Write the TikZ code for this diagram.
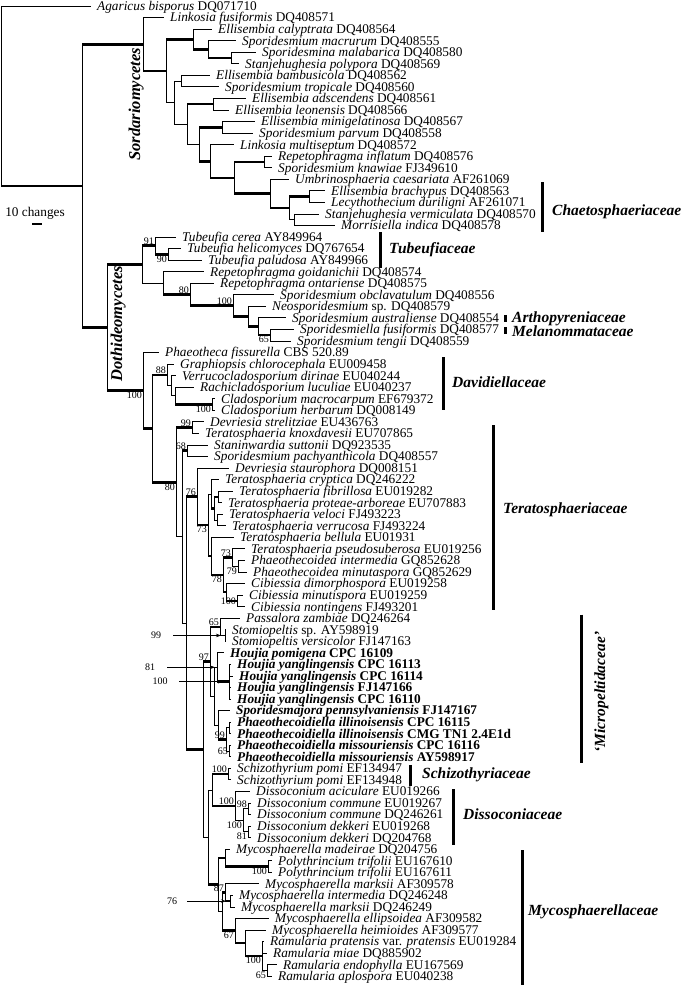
\documentclass[tikz,border=0pt]{standalone}
\usepackage{fontspec}
\setmainfont{Liberation Serif}
\usetikzlibrary{calc,arrows.meta}

\newcommand{\leaffont}{\fontsize{13.3}{14}\selectfont}
\newcommand{\bsfont}{\fontsize{10}{11}\selectfont}
\newcommand{\famfont}{\fontsize{15.5}{16}\selectfont\bfseries\itshape}
\newcommand{\classfont}{\fontsize{16.5}{17}\selectfont\bfseries\itshape}
% internal node: name, x, first child, last child
\newcommand{\inode}[4]{\path let \p1=($(#3)!0.5!(#4)$) in coordinate (#1) at (#2pt,\y1);}

\tikzset{
  branch/.style={line width=0.8pt},
  thickbranch/.style={line width=2.6pt},
  tx/.style={anchor=west, inner xsep=6pt, inner ysep=0pt, text height=10pt, text depth=1.2pt, font=\leaffont},
  txb/.style={tx, font=\leaffont\bfseries},
  bs/.style={font=\bsfont, inner sep=1pt},
  fam/.style={anchor=west, inner sep=0pt, font=\famfont},
  famrot/.style={rotate=90, anchor=base, inner sep=0pt, font=\famfont},
  bar/.style={line width=3pt},
  pointer/.style={line width=0.6pt, -{Stealth[length=5pt,width=3.5pt]}},
}

\begin{document}
\begin{tikzpicture}[x=1pt, y=-11.55pt]
\useasboundingbox (0,0.4805) rectangle (685,85.935);

% Outgroup and Sordariomycetes
\node[tx] (l1) at (91,1) {\textit{Agaricus bisporus} DQ071710};
\node[tx] (l2) at (164,2) {\textit{Linkosia fusiformis} DQ408571};
\node[tx] (l3) at (212,3) {\textit{Ellisembia calyptrata} DQ408564};
\node[tx] (l4) at (236,4) {\textit{Sporidesmium macrurum} DQ408555};
\node[tx] (l5) at (256,5) {\textit{Sporidesmina malabarica} DQ408580};
\node[tx] (l6) at (239,6) {\textit{Stanjehughesia polypora} DQ408569};
\node[tx] (l7) at (210,7) {\textit{Ellisembia bambusicola} DQ408562};
\node[tx] (l8) at (219,8) {\textit{Sporidesmium tropicale} DQ408560};
\node[tx] (l9) at (246,9) {\textit{Ellisembia adscendens} DQ408561};
\node[tx] (l10) at (229,10) {\textit{Ellisembia leonensis} DQ408566};
\node[tx] (l11) at (255,11) {\textit{Ellisembia minigelatinosa} DQ408567};
\node[tx] (l12) at (253,12) {\textit{Sporidesmium parvum} DQ408558};
\node[tx] (l13) at (234,13) {\textit{Linkosia multiseptum} DQ408572};
\node[tx] (l14) at (272,14) {\textit{Repetophragma inflatum} DQ408576};
\node[tx] (l15) at (272,15) {\textit{Sporidesmium knawiae} FJ349610};
\node[tx] (l16) at (289,16) {\textit{Umbrinosphaeria caesariata} AF261069};
\node[tx] (l17) at (325,17) {\textit{Ellisembia brachypus} DQ408563};
\node[tx] (l18) at (325,18) {\textit{Lecythothecium duriligni} AF261071};
\node[tx] (l19) at (319,19) {\textit{Stanjehughesia vermiculata} DQ408570};
\node[tx] (l20) at (335,20) {\textit{Morrisiella indica} DQ408578};

% Tubeufiaceae and Pleosporales
\node[tx] (l21) at (176,21) {\textit{Tubeufia cerea} AY849964};
\node[tx] (l22) at (181,22) {\textit{Tubeufia helicomyces} DQ767654};
\node[tx] (l23) at (202,23) {\textit{Tubeufia paludosa} AY849966};
\node[tx] (l24) at (204,24) {\textit{Repetophragma goidanichii} DQ408574};
\node[tx] (l25) at (214,25) {\textit{Repetophragma ontariense} DQ408575};
\node[tx] (l26) at (274,26) {\textit{Sporidesmium obclavatulum} DQ408556};
\node[tx] (l27) at (266,27) {\textit{Neosporidesmium} sp. DQ408579};
\node[tx] (l28) at (286,28) {\textit{Sporidesmium australiense} DQ408554};
\node[tx] (l29) at (294,29) {\textit{Sporidesmiella fusiformis} DQ408577};
\node[tx] (l30) at (291,30) {\textit{Sporidesmium tengii} DQ408559};

% Capnodiales
\node[tx] (l31) at (159,31) {\textit{Phaeotheca fissurella} CBS 520.89};
\node[tx] (l32) at (174,32) {\textit{Graphiopsis chlorocephala} EU009458};
\node[tx] (l33) at (176,33) {\textit{Verrucocladosporium dirinae} EU040244};
\node[tx] (l34) at (194,34) {\textit{Rachicladosporium luculiae} EU040237};
\node[tx] (l35) at (215,35) {\textit{Cladosporium macrocarpum} EF679372};
\node[tx] (l36) at (215,36) {\textit{Cladosporium herbarum} DQ008149};
\node[tx] (l37) at (204,37) {\textit{Devriesia strelitziae} EU436763};
\node[tx] (l38) at (199,38) {\textit{Teratosphaeria knoxdavesii} EU707865};
\node[tx] (l39) at (208,39) {\textit{Staninwardia suttonii} DQ923535};
\node[tx] (l40) at (208,40) {\textit{Sporidesmium pachyanthicola} DQ408557};
\node[tx] (l41) at (229,41) {\textit{Devriesia staurophora} DQ008151};
\node[tx] (l42) at (219,42) {\textit{Teratosphaeria cryptica} DQ246222};
\node[tx] (l43) at (233,43) {\textit{Teratosphaeria fibrillosa} EU019282};
\node[tx] (l44) at (222,44) {\textit{Teratosphaeria proteae-arboreae} EU707883};
\node[tx] (l45) at (223,45) {\textit{Teratosphaeria veloci} FJ493223};
\node[tx] (l46) at (226,46) {\textit{Teratosphaeria verrucosa} FJ493224};
\node[tx] (l47) at (234,47) {\textit{Teratosphaeria bellula} EU01931};
\node[tx] (l48) at (245,48) {\textit{Teratosphaeria pseudosuberosa} EU019256};
\node[tx] (l49) at (245,49) {\textit{Phaeothecoidea intermedia} GQ852628};
\node[tx] (l50) at (247,50) {\textit{Phaeothecoidea minutaspora} GQ852629};
\node[tx] (l51) at (245,51) {\textit{Cibiessia dimorphospora} EU019258};
\node[tx] (l52) at (243,52) {\textit{Cibiessia minutispora} EU019259};
\node[tx] (l53) at (245,53) {\textit{Cibiessia nontingens} FJ493201};
\node[tx] (l54) at (240,54) {\textit{Passalora zambiae} DQ246264};
\node[tx] (l55) at (226,55) {\textit{Stomiopeltis} sp. AY598919};
\node[tx] (l56) at (226,56) {\textit{Stomiopeltis versicolor} FJ147163};
\node[txb] (l57) at (224,57) {\textit{Houjia pomigena} CPC 16109};
\node[txb] (l58) at (231,58) {\textit{Houjia yanglingensis} CPC 16113};
\node[txb] (l59) at (233,59) {\textit{Houjia yanglingensis} CPC 16114};
\node[txb] (l60) at (231,60) {\textit{Houjia yanglingensis} FJ147166};
\node[txb] (l61) at (231,61) {\textit{Houjia yanglingensis} CPC 16110};
\node[txb] (l62) at (230,62) {\textit{Sporidesmajora pennsylvaniensis} FJ147167};
\node[txb] (l63) at (231,63) {\textit{Phaeothecoidiella illinoisensis} CPC 16115};
\node[txb] (l64) at (231,64) {\textit{Phaeothecoidiella illinoisensis} CMG TN1 2.4E1d};
\node[txb] (l65) at (231,65) {\textit{Phaeothecoidiella missouriensis} CPC 16116};
\node[txb] (l66) at (231,66) {\textit{Phaeothecoidiella missouriensis} AY598917};
\node[tx] (l67) at (231,67) {\textit{Schizothyrium pomi} EF134947};
\node[tx] (l68) at (231,68) {\textit{Schizothyrium pomi} EF134948};
\node[tx] (l69) at (250,69) {\textit{Dissoconium aciculare} EU019266};
\node[tx] (l70) at (251,70) {\textit{Dissoconium commune} EU019267};
\node[tx] (l71) at (251,71) {\textit{Dissoconium commune} DQ246261};
\node[tx] (l72) at (251,72) {\textit{Dissoconium dekkeri} EU019268};
\node[tx] (l73) at (251,73) {\textit{Dissoconium dekkeri} DQ204768};
\node[tx] (l74) at (230,74) {\textit{Mycosphaerella madeirae} DQ204756};
\node[tx] (l75) at (272,75) {\textit{Polythrincium trifolii} EU167610};
\node[tx] (l76) at (272,76) {\textit{Polythrincium trifolii} EU167611};
\node[tx] (l77) at (259,77) {\textit{Mycosphaerella marksii} AF309578};
\node[tx] (l78) at (233,78) {\textit{Mycosphaerella intermedia} DQ246248};
\node[tx] (l79) at (235,79) {\textit{Mycosphaerella marksii} DQ246249};
\node[tx] (l80) at (269,80) {\textit{Mycosphaerella ellipsoidea} AF309582};
\node[tx] (l81) at (266,81) {\textit{Mycosphaerella heimioides} AF309577};
\node[tx] (l82) at (264,82) {\textit{Ramularia pratensis} var. \textit{pratensis} EU019284};
\node[tx] (l83) at (267,83) {\textit{Ramularia miae} DQ885902};
\node[tx] (l84) at (277,84) {\textit{Ramularia endophylla} EU167569};
\node[tx] (l85) at (272,85) {\textit{Ramularia aplospora} EU040238};

% Internal nodes (children first) with their vertical lines
\foreach \nm/\xx/\fa/\fb in {
  s2b/231/l5/l6, s2a/208/l4/s2b, s2/193/l3/s2a, cb/181/l7/l8, ca/213/l9/l10,
  cm/222/l11/l12, cr/264/l14/l15, cbl/309/l17/l18, cvm/294/l19/l20,
  cu2/289/cbl/cvm, cu/270/l16/cu2, s7/234/cr/cu, s6/210/l13/s7, s5/199/cm/s6,
  s4/187/ca/s5, s3/174/cb/s4, s1/166/s2/s3, s0/143/l2/s1,
  t2/168/l22/l23, t1/155/l21/t2, p5/270/l29/l30, p4/258/l28/p5, p3/248/l27/p4,
  p2/233/l26/p3, p1/190/l25/p2, p0/163/l24/p1, tg/142/t1/p0,
  cl/212/l35/l36, dv2/175/l34/cl, dv1/171/l33/dv2, dv/167/l32/dv1,
  dk/192/l37/l38, sp/187/l39/l40, fp/218/l43/l44, vv/217/l45/l46, tf/214/fp/vv,
  tc/211/l42/tf, phx/238/l49/l50, tps/232/l48/phx, cib1/237/l52/l53,
  cib/226/l51/cib1, tq/223/tps/cib, tb/211/l47/tq, t73/208/tc/tb, t76/197/l41/t73,
  st/225/l55/l56, ps/220/l54/st, hy/229/l58/l61, h/217/l57/hy, phi/229/l63/l64,
  phm/229/l65/l66, ph1/226/phi/phm, ph/218/l62/ph1, hp/214/h/ph, mic/210/ps/hp,
  sch/228/l67/l68, dc/248/l70/l71, dd/248/l72/l73, dis1/243/dc/dd, dis/235/l69/dis1,
  sd/212/sch/dis, pt/268/l75/l76, mp/225/l74/pt, im/230/l78/l79, mk/225/l77/im,
  r2/267/l84/l85, r1/262/l82/r2, r0/245/l81/r1, rx/235/l80/r0, m1/222/mk/rx,
  m0/218/mp/m1, sdm/208/sd/m0, c5/203/mic/sdm, c4/186/t76/c5, c3/182/sp/c4,
  c2/176/dk/c3, c1/152/dv/c2, c/143/l31/c1, d/107/tg/c, ig/82/s0/d, root/1/l1/ig}{
  \inode{\nm}{\xx}{\fa}{\fb}
  \draw[branch] (\nm |- \fa) -- (\nm |- \fb);
}

% Thin branches
\foreach \pa/\ch in {
  root/l1, s0/l2, s1/s3, s2/l3, s2a/l4, s2b/l5, s2b/l6, s3/cb, s3/s4, s4/s5, cb/l7, cb/l8,
  ca/l9, ca/l10, cm/l11, cm/l12, s6/l13, cr/l14, cr/l15, cu/l16, cu2/cvm,
  cbl/l17, cbl/l18, cvm/l19, cvm/l20,
  tg/p0, t1/l21, t2/l22, t2/l23, p0/l24, p1/l25, p2/l26, p3/l27, p4/l28, p5/l29, p5/l30,
  c/l31, dv/l32, dv/dv1, dv1/l33, dv1/dv2, dv2/l34, cl/l35, cl/l36, c2/c3,
  dk/l37, dk/l38, c3/c4, sp/l39, sp/l40, t76/l41, t73/tc, tc/l42, tf/vv,
  fp/l43, fp/l44, vv/l45, vv/l46, tb/l47, tps/l48, tps/phx, phx/l49, phx/l50,
  cib/l51, cib1/l52, cib1/l53,
  c5/sdm, mic/hp, ps/l54, ps/st, st/l55, st/l56, hp/h, hp/ph, h/l57,
  hy/l58, hy/l59, hy/l60, hy/l61, ph/l62, ph1/phi, ph1/phm, phi/l63, phi/l64,
  phm/l65, phm/l66, sdm/sd, sch/l67, sch/l68, dis/l69, dis/dis1, dis1/dc, dis1/dd,
  dc/l70, dc/l71, dd/l72, dd/l73, m0/m1, mp/l74, pt/l75, pt/l76, mk/l77,
  im/l78, im/l79, rx/l80, r0/l81, r1/l82, r1/l83, r1/r2, r2/l84, r2/l85}
  \draw[branch] (\pa |- \ch) -- (\ch);

% Thick (supported) branches
\foreach \pa/\ch in {
  root/ig, ig/s0, ig/d, s0/s1, s1/s2, s2/s2a, s2a/s2b, s4/ca, s5/cm, s5/s6,
  s6/s7, s7/cr, s7/cu, cu/cu2, cu2/cbl,
  d/tg, d/c, tg/t1, t1/t2, p0/p1, p1/p2, p2/p3, p3/p4, p4/p5,
  c/c1, c1/dv, c1/c2, dv2/cl, c2/dk, c3/sp, c4/t76, c4/c5, t76/t73, t73/tb,
  tc/tf, tf/fp, tb/tq, tq/tps, tq/cib, cib/cib1,
  c5/mic, mic/ps, h/hy, ph/ph1, sd/sch, sd/dis, sdm/m0, m0/mp, mp/pt,
  m1/mk, m1/rx, mk/im, rx/r0, r0/r1}
  \draw[thickbranch] (\pa |- \ch) -- (\ch);

% Bootstrap values
\foreach \nm/\val/\anc in {
  t1/91/south east, t2/90/north east, p1/80/south east, p2/100/south east,
  p5/65/north east, c/100/north east, dv/88/south east, cl/100/north east,
  c2/80/north east, dk/99/south east, sp/68/south east, t76/76/south east,
  t73/73/north east, tps/73/south east, phx/79/north east, tq/78/north east,
  cib1/100/east, ps/65/south east, mic/97/south east, ph1/99/south east,
  phm/65/east, sch/100/south east, dis/100/south east, dc/98/south east,
  dis1/100/north east, dd/81/north east, pt/100/north east, mk/87/south east,
  rx/67/north east, r1/100/north east, r2/65/north east}
  \node[bs, anchor=\anc] (bs\nm) at (\nm) {\val};

% Values pointed to with arrows
\node[bs] (a99) at ($(st)+(-69,0)$) {99};
\draw[pointer] ([xshift=11pt]a99.east) -- ([xshift=-4pt]st);
\node[bs] (a81) at ($(h)+(-67,0)$) {81};
\draw[pointer] ([xshift=11pt]a81.east) -- ([xshift=-2pt]h);
\node[bs] (a100) at ($(hy)+(-69,0)$) {100};
\draw[pointer] ([xshift=10.5pt]a100.east) -- ([xshift=-6pt]hy);
\node[bs] (a76) at ($(im)+(-58,0)$) {76};
\draw[pointer] ([xshift=9pt]a76.east) -- ([xshift=-4pt]im);

% Scale bar
\node[font=\leaffont, inner sep=0pt] (scale) at (35,18.92) {10 changes};
\draw[line width=1.2pt] (32,19.87) -- (42,19.87);

% Classes
\node[famrot, font=\classfont] (sordario) at (140,9.5) {Sordariomycetes};
\node[famrot, font=\classfont] (dothideo) at (122,28.5) {Dothideomycetes};

% Families
\draw[bar] (542,16.24) -- (542,20.57);
\node[fam] (chaeto) at (552,18.8) {Chaetosphaeriaceae};
\draw[bar] (380,20.6) -- (380,23.7);
\node[fam] (tubeu) at (389,22.1) {Tubeufiaceae};
\draw[bar] (505,27.75) -- (505,28.35);
\node[fam] (arthop) at (512,28.05) {Arthopyreniaceae};
\draw[bar] (505,28.8) -- (505,29.4);
\node[fam] (melan) at (512,29.15) {Melanommataceae};
\draw[bar] (443,31.4) -- (443,36);
\node[fam] (davidi) at (452,33.6) {Davidiellaceae};
\draw[bar] (493,37.3) -- (493,53.3);
\node[fam] (terato) at (503,44.6) {Teratosphaeriaceae};
\draw[bar] (581,53.7) -- (581,66.55);
\node[famrot] (micro) at (605,60.4) {‘Micropeltidaceae’};
\draw[bar] (410,66.7) -- (410,68.5);
\node[fam] (schizo) at (422,67.6) {Schizothyriaceae};
\draw[bar] (453,68.8) -- (453,73.6);
\node[fam] (dissoc) at (463,70.96) {Dissoconiaceae};
\draw[bar] (522,74.1) -- (522,85.76);
\node[fam] (mycosph) at (528,79.4) {Mycosphaerellaceae};

\end{tikzpicture}
\end{document}
